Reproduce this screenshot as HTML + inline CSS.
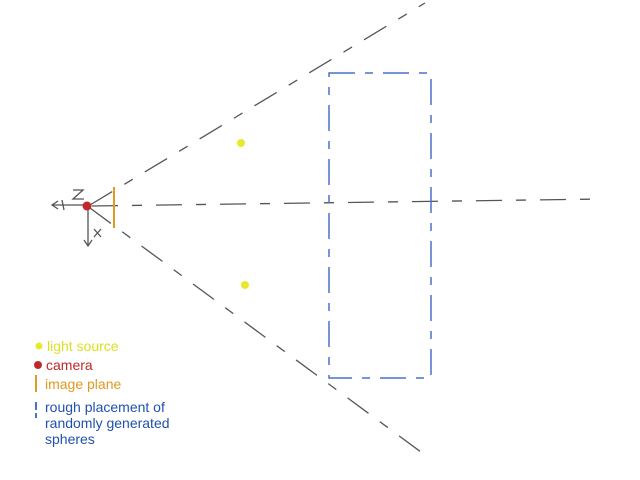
<!DOCTYPE html>
<html><head><meta charset="utf-8"><style>
html,body{margin:0;padding:0;background:#fff;}
svg{display:block;}
text{font-family:"Liberation Sans",sans-serif;font-size:14px;}
</style></head><body>
<svg width="640" height="480" viewBox="0 0 640 480">
<g stroke="#555" stroke-width="1.3" fill="none" stroke-dasharray="26 14 10 14">
<line x1="90" y1="205" x2="425" y2="3"/>
<line x1="90" y1="208" x2="425" y2="455"/>
<line x1="92" y1="206" x2="602" y2="199"/>
</g>
<g stroke="#4a72c8" stroke-width="1.5" fill="none" stroke-dasharray="26 10 8 10">
<rect x="329" y="73" width="102" height="305"/>
</g>
<g stroke="#555" stroke-width="1.3" fill="none">
<line x1="87" y1="205" x2="52" y2="205"/>
<polyline points="58,201 52,205 58,209"/>
<line x1="88" y1="206" x2="88" y2="246"/>
<polyline points="84,240 88,246 92,240"/>
<path d="M62,200 l2,10"/>
<path d="M73,190 h10 l-10,9 h11"/>
<path d="M94,229 l7,8 M101,229 l-7,8"/>
</g>
<line x1="114" y1="187" x2="114" y2="228" stroke="#e09a20" stroke-width="2"/>
<circle cx="87" cy="206" r="4.5" fill="#c0282a"/>
<circle cx="241" cy="143" r="4" fill="#e6ea2a"/>
<circle cx="245" cy="285" r="4" fill="#e6ea2a"/>
<g>
<circle cx="39" cy="346" r="3.5" fill="#e6ea2a"/>
<text x="47" y="351" fill="#dde020">light source</text>
<circle cx="38" cy="365" r="4" fill="#c0282a"/>
<text x="46" y="370" fill="#c0282a">camera</text>
<line x1="36" y1="375" x2="36" y2="392" stroke="#e09a20" stroke-width="2"/>
<text x="45" y="389" fill="#e09a20">image plane</text>
<line x1="36" y1="402" x2="36" y2="418" stroke="#4a72c8" stroke-width="2" stroke-dasharray="8 3"/>
<text fill="#2050b0"><tspan x="45" y="412">rough placement of</tspan><tspan x="45" y="428">randomly generated</tspan><tspan x="45" y="444">spheres</tspan></text>
</g>
</svg>
</body></html>
